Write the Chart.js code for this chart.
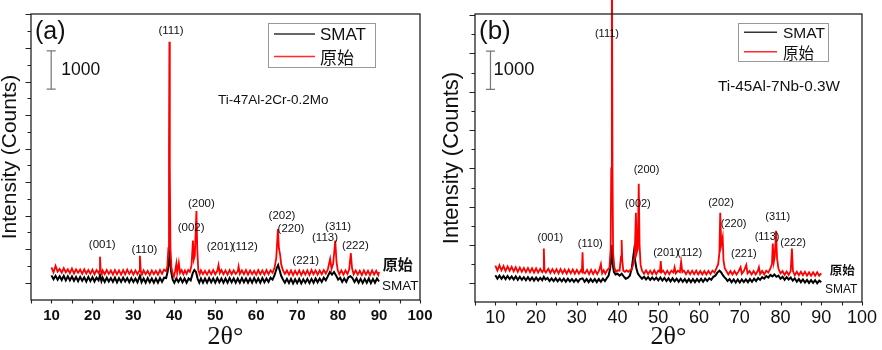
<!DOCTYPE html>
<html>
<head>
<meta charset="utf-8">
<script src="https://cdn.jsdelivr.net/npm/chart.js@4.4.1/dist/chart.umd.min.js"></script>
<style>
  body { margin: 0; background: #fff; }
  .panel { position: absolute; top: 0; width: 441px; height: 350px; }
  #wrapA { left: 0; }
  #wrapB { left: 441px; }
</style>
</head>
<body>
<div class="panel" id="wrapA"><canvas id="chartA" width="441" height="350"></canvas></div>
<div class="panel" id="wrapB"><canvas id="chartB" width="441" height="350"></canvas></div>
<script>
// ---- shared axis values ----
const twoThetaTicks = [10, 20, 30, 40, 50, 60, 70, 80, 90, 100];
const twoThetaMarks = [5, 10, 15, 20, 25, 30, 35, 40, 45, 50, 55, 60, 65, 70, 75, 80, 85, 90, 95, 100];
const seriesNames = ['SMAT', '原始'];

// ---- panel (a): Ti-47Al-2Cr-0.2Mo ----
const rawA = [
  [10,400],[10.5,270],[11,440],[11.5,290],[12,360],[12.5,260],[13,380],[13.5,270],[14,350],[14.5,250],
  [15,370],[15.5,240],[16,350],[16.5,260],[17,340],[17.5,230],[18,350],[18.5,240],[19,330],[19.5,230],
  [20,340],[20.5,220],[21,330],[21.5,250],[21.7,300],[21.85,680],[22,330],[22.3,230],[22.5,320],[23,220],
  [23.5,330],[24,230],[24.5,320],[25,210],[25.5,330],[26,220],[26.5,320],[27,210],[27.5,330],[28,220],
  [28.5,340],[29,230],[29.5,320],[30,210],[30.5,320],[31,220],[31.4,300],[31.6,700],[31.8,310],[32.1,210],
  [32.5,320],[33,220],[33.5,310],[34,200],[34.5,320],[35,220],[35.5,310],[36,210],[36.5,330],[37,230],
  [37.5,340],[38,300],[38.3,420],[38.55,900],[38.7,3500],[38.8,6290],[38.9,3000],[39.05,900],[39.3,400],[39.6,230],
  [39.9,160],[40.2,300],[40.5,500],[40.7,260],[41.1,520],[41.4,250],[41.8,330],[42.2,220],[42.6,320],[43,230],
  [43.4,330],[43.8,280],[44.2,450],[44.55,1100],[44.75,600],[45,700],[45.4,1870],[45.6,900],[45.85,330],[46.2,220],
  [46.5,320],[47,220],[47.5,310],[48,210],[48.5,320],[49,220],[49.5,330],[50,220],[50.5,310],[50.8,460],
  [51.1,250],[51.5,330],[52,220],[52.5,320],[53,210],[53.5,330],[54,220],[54.5,320],[55,230],[55.5,300],
  [55.7,420],[56,230],[56.5,320],[57,220],[57.5,330],[58,210],[58.5,320],[59,220],[59.5,310],[60,210],
  [60.5,330],[61,220],[61.5,320],[62,210],[62.5,330],[63,220],[63.5,320],[64,260],[64.5,400],[64.9,650],
  [65.3,1400],[65.55,900],[65.85,720],[66.1,480],[66.5,330],[67,230],[67.5,320],[68,210],[68.5,320],[69,200],
  [69.5,310],[70,210],[70.5,320],[71,200],[71.5,310],[72,210],[72.5,320],[73,200],[73.5,330],[74,220],
  [74.5,320],[75,210],[75.5,320],[76,220],[76.5,330],[77,240],[77.5,350],[78.05,620],[78.4,360],[78.8,500],
  [79.3,1100],[79.6,560],[79.9,330],[80.3,220],[80.8,320],[81.3,210],[81.8,320],[82.3,230],[82.7,340],[83.1,770],
  [83.4,380],[83.8,220],[84.3,320],[84.8,210],[85.3,310],[85.8,200],[86.3,320],[86.8,210],[87.3,310],[87.8,200],
  [88.3,320],[88.8,210],[89.3,310],[89.8,200],[90,280]
];
const smatA = [
  [10,190],[10.5,90],[11,180],[11.5,80],[12,170],[12.5,70],[13,180],[13.5,60],[14,170],[14.5,60],
  [15,160],[15.5,50],[16,150],[16.5,40],[17,150],[17.5,50],[18,140],[18.5,30],[19,150],[19.5,40],
  [20,140],[20.5,30],[21,130],[21.5,60],[21.85,200],[22.2,40],[22.5,130],[23,20],[23.5,130],[24,30],
  [24.5,120],[25,20],[25.5,130],[26,10],[26.5,120],[27,20],[27.5,130],[28,30],[28.5,120],[29,10],
  [29.5,120],[30,20],[30.5,110],[31,10],[31.6,180],[32,10],[32.5,110],[33,0],[33.5,120],[34,10],
  [34.5,110],[35,0],[35.5,110],[36,0],[36.5,120],[37,20],[37.5,130],[38,120],[38.4,300],[38.8,700],
  [39.2,300],[39.6,80],[40,0],[40.5,110],[41,20],[41.5,120],[42,10],[42.5,110],[43,0],[43.5,110],
  [44,60],[44.5,250],[44.9,330],[45.3,280],[45.7,100],[46.1,0],[46.5,110],[47,0],[47.5,110],[48,0],
  [48.5,120],[49,10],[49.5,110],[50,0],[50.5,120],[51,10],[51.5,110],[52,0],[52.5,110],[53,0],
  [53.5,120],[54,10],[54.5,110],[55,0],[55.5,110],[56,0],[56.5,120],[57,10],[57.5,110],[58,0],
  [58.5,110],[59,0],[59.5,120],[60,10],[60.5,110],[61,0],[61.5,120],[62,10],[62.5,110],[63,20],
  [63.5,130],[64,80],[64.5,200],[65,380],[65.35,460],[65.7,330],[66.1,180],[66.5,90],[67,0],[67.5,100],
  [68,-10],[68.5,100],[69,-20],[69.5,90],[70,-10],[70.5,100],[71,-20],[71.5,90],[72,0],[72.5,100],
  [73,-10],[73.5,100],[74,0],[74.5,110],[75,10],[75.5,110],[76,20],[76.5,130],[77,60],[77.5,170],
  [78,280],[78.5,210],[79,280],[79.5,190],[80,80],[80.5,130],[81,20],[81.5,110],[82,20],[82.5,140],
  [83,170],[83.5,120],[84,20],[84.5,110],[85,0],[85.5,100],[86,-10],[86.5,100],[87,0],[87.5,110],
  [88,-10],[88.5,100],[89,0],[89.5,110],[90,30]
];
const peakNamesA = ['(111)', '(001)', '(110)', '(002)', '(200)', '(201)', '(112)', '(202)', '(220)', '(221)', '(113)', '(311)', '(222)'];
const peakXA = [39.2, 22.4, 32.7, 44.1, 46.6, 51.2, 57.2, 66.3, 68.5, 72.1, 76.8, 80.0, 84.2];
const peakYA = [6580, 980, 850, 1440, 2070, 930, 930, 1750, 1410, 580, 1170, 1470, 970];
const yMajorA = [0, 875, 1750, 2625, 3500, 4375, 5250, 6125, 7000];
const yMinorA = [437.5, 1312.5, 2187.5, 3062.5, 3937.5, 4812.5, 5687.5, 6562.5];

// ---- panel (b): Ti-45Al-7Nb-0.3W ----
const rawB = [
  [10,460],[10.5,330],[11,470],[11.5,340],[12,450],[12.5,320],[13,440],[13.5,330],[14,430],[14.5,310],
  [15,420],[15.5,300],[16,410],[16.5,300],[17,400],[17.5,290],[18,400],[18.5,290],[19,390],[19.5,280],
  [20,390],[20.5,280],[21,380],[21.5,290],[21.75,340],[21.9,910],[22.05,340],[22.4,280],[23,380],[23.5,270],
  [24,370],[24.5,270],[25,370],[25.5,260],[26,370],[26.5,260],[27,360],[27.5,250],[28,360],[28.5,260],
  [29,360],[29.5,250],[30,350],[30.5,250],[31,340],[31.25,300],[31.4,810],[31.55,300],[32,260],[32.5,350],
  [33,240],[33.5,350],[34,240],[34.5,340],[35,240],[35.5,340],[35.9,500],[36.2,260],[36.6,340],[37,250],
  [37.5,350],[38,400],[38.3,900],[38.45,3000],[38.6,9500],[38.75,3000],[38.9,800],[39.2,420],[39.6,300],[40,340],
  [40.5,330],[40.85,700],[41,1130],[41.15,600],[41.4,330],[41.8,300],[42.2,340],[42.6,300],[43,340],[43.4,350],
  [43.8,480],[44.2,700],[44.5,1840],[44.7,800],[44.95,900],[45.2,2600],[45.4,1000],[45.65,480],[46,330],[46.5,250],
  [47,340],[47.5,240],[48,330],[48.5,240],[49,340],[49.5,240],[50,330],[50.4,300],[50.6,580],[50.8,290],
  [51.2,330],[51.7,240],[52.2,330],[52.7,240],[53.2,330],[53.7,280],[54,420],[54.3,260],[54.8,330],[55.3,290],
  [55.6,560],[55.9,290],[56.3,330],[56.8,240],[57.3,330],[57.8,240],[58.3,330],[58.8,240],[59.3,330],[59.8,230],
  [60.3,320],[60.8,230],[61.3,320],[61.8,230],[62.3,320],[62.8,240],[63.3,330],[63.8,280],[64.3,400],[64.7,500],
  [65,800],[65.2,1840],[65.45,1000],[65.8,1200],[66,600],[66.3,400],[66.7,320],[67.2,230],[67.7,320],[68.2,230],
  [68.7,320],[69.2,230],[69.7,310],[70.2,420],[70.5,250],[71,320],[71.6,480],[71.9,260],[72.4,320],[72.9,230],
  [73.4,320],[73.9,230],[74.4,320],[74.7,420],[75,240],[75.5,320],[76,230],[76.5,330],[77,280],[77.5,380],
  [77.9,500],[78.1,1040],[78.35,550],[78.6,700],[78.9,1370],[79.15,650],[79.5,380],[80,260],[80.5,320],[81,220],
  [81.5,310],[82,220],[82.5,320],[82.8,910],[83.05,320],[83.5,210],[84,300],[84.5,210],[85,300],[85.5,210],
  [86,300],[86.5,200],[87,290],[87.5,200],[88,290],[88.5,200],[89,290],[89.5,200],[90,260]
];
const smatB = [
  [10,210],[10.5,120],[11,200],[11.5,120],[12,190],[12.5,110],[13,190],[13.5,110],[14,180],[14.5,100],
  [15,180],[15.5,90],[16,170],[16.5,90],[17,160],[17.5,80],[18,160],[18.5,80],[19,150],[19.5,70],
  [20,150],[20.5,70],[21,140],[21.5,80],[21.9,170],[22.3,100],[22.8,140],[23.3,60],[23.8,130],[24.3,60],
  [24.8,130],[25.3,50],[25.8,120],[26.3,50],[26.8,120],[27.3,40],[27.8,120],[28.3,50],[28.8,110],[29.3,40],
  [29.8,110],[30.3,40],[30.8,110],[31.4,130],[31.9,40],[32.4,110],[32.9,30],[33.4,110],[33.9,40],[34.4,110],
  [34.9,30],[35.4,110],[35.9,40],[36.4,120],[36.9,60],[37.4,140],[37.8,200],[38.2,400],[38.55,1000],[38.8,500],
  [39.1,300],[39.5,230],[40,250],[40.5,200],[41,250],[41.5,180],[42,120],[42.5,140],[43,200],[43.5,400],
  [43.8,650],[44.05,850],[44.3,600],[44.6,400],[45,250],[45.5,180],[46,120],[46.5,170],[47,100],[47.5,160],
  [48,90],[48.5,150],[49,90],[49.5,150],[50,80],[50.5,150],[51,70],[51.5,140],[52,60],[52.5,130],
  [53,50],[53.5,130],[54,50],[54.5,120],[55,40],[55.5,120],[56,40],[56.5,110],[57,30],[57.5,110],
  [58,30],[58.5,110],[59,30],[59.5,110],[60,40],[60.5,120],[61,40],[61.5,120],[62,60],[62.5,130],
  [63,90],[63.5,170],[64,200],[64.5,280],[65,330],[65.4,290],[65.8,220],[66.2,160],[66.6,120],[67,60],
  [67.5,110],[68,30],[68.5,100],[69,20],[69.5,100],[70,20],[70.5,100],[71,30],[71.5,100],[72,30],
  [72.5,110],[73,40],[73.5,120],[74,60],[74.5,140],[75,90],[75.5,160],[76,120],[76.5,190],[77,150],
  [77.5,220],[78,180],[78.5,230],[79,170],[79.5,200],[80,120],[80.5,170],[81,90],[81.5,160],[82,100],
  [82.5,150],[83,70],[83.5,130],[84,40],[84.5,110],[85,30],[85.5,100],[86,20],[86.5,90],[87,10],
  [87.5,80],[88,10],[88.5,80],[89,0],[89.5,70],[90,30]
];
const peakNamesB = ['(111)', '(001)', '(110)', '(002)', '(200)', '(201)', '(112)', '(202)', '(220)', '(221)', '(113)', '(311)', '(222)'];
const peakXB = [37.4, 23.5, 33.3, 45.0, 47.1, 51.9, 57.7, 65.4, 68.5, 71.0, 76.7, 79.3, 83.1];
const peakYB = [6500, 1180, 1030, 2080, 2950, 790, 790, 2100, 1560, 770, 1210, 1730, 1050];
const yMajorB = [0, 1000, 2000, 3000, 4000, 5000, 6000, 7000];
const yMinorB = [500, 1500, 2500, 3500, 4500, 5500, 6500];

// draws frame, tick marks, scale bar, peak labels, legend and captions
function decorPlugin(p) {
  return {
    id: 'decor',
    afterDraw(chart) {
      const ctx = chart.ctx;
      const area = chart.chartArea;
      const xs = chart.scales.x, ys = chart.scales.y;
      ctx.save();

      // frame
      ctx.strokeStyle = '#222';
      ctx.lineWidth = 1.3;
      ctx.strokeRect(area.left, area.top, area.right - area.left, area.bottom - area.top);

      // tick marks
      ctx.lineWidth = 1.1;
      ctx.beginPath();
      twoThetaMarks.forEach(v => {
        const px = Math.round(xs.getPixelForValue(v)) + 0.5;
        ctx.moveTo(px, area.bottom);
        ctx.lineTo(px, area.bottom + 3.5);
      });
      p.yMajor.forEach(v => {
        const py = Math.round(ys.getPixelForValue(v)) + 0.5;
        ctx.moveTo(area.left, py);
        ctx.lineTo(area.left - 5.5, py);
      });
      p.yMinor.forEach(v => {
        const py = Math.round(ys.getPixelForValue(v)) + 0.5;
        ctx.moveTo(area.left, py);
        ctx.lineTo(area.left - 3.5, py);
      });
      ctx.stroke();

      // scale bar (1000 counts)
      const bx = xs.getPixelForValue(p.bar.x);
      const b0 = ys.getPixelForValue(p.bar.from), b1 = ys.getPixelForValue(p.bar.from + 1000);
      ctx.strokeStyle = '#777';
      ctx.lineWidth = 1.2;
      ctx.beginPath();
      ctx.moveTo(bx, b0); ctx.lineTo(bx, b1);
      ctx.moveTo(bx - 4.5, b0); ctx.lineTo(bx + 4.5, b0);
      ctx.moveTo(bx - 4.5, b1); ctx.lineTo(bx + 4.5, b1);
      ctx.stroke();
      ctx.fillStyle = '#111';
      ctx.textBaseline = 'middle';
      ctx.textAlign = 'left';
      ctx.font = p.barFont + 'px "Liberation Sans", Arial, sans-serif';
      ctx.fillText('1000', bx + p.barGap, (b0 + b1) / 2);

      // peak (hkl) labels
      ctx.textAlign = 'center';
      ctx.font = p.peakFont + 'px "Liberation Sans", Arial, sans-serif';
      p.peakNames.forEach((t, i) => {
        ctx.fillText(t, xs.getPixelForValue(p.peakX[i]), ys.getPixelForValue(p.peakY[i]));
      });

      // curve end labels
      ctx.textAlign = 'left';
      ctx.font = 'bold ' + p.endRawFont + 'px "Noto Sans CJK SC", sans-serif';
      ctx.fillText(seriesNames[1], xs.getPixelForValue(p.endRaw[0]), ys.getPixelForValue(p.endRaw[1]));
      ctx.font = p.endSmatFont + 'px "Liberation Sans", Arial, sans-serif';
      ctx.fillText(seriesNames[0], xs.getPixelForValue(p.endSmat[0]), ys.getPixelForValue(p.endSmat[1]));

      // panel letter and alloy
      ctx.font = p.letterFont + 'px "Liberation Sans", Arial, sans-serif';
      ctx.fillText(p.letter, p.letterPos[0], p.letterPos[1]);
      ctx.font = p.alloyFont + 'px "Liberation Sans", Arial, sans-serif';
      ctx.fillText(p.alloy, p.alloyPos[0], p.alloyPos[1]);

      // legend box
      const L = p.legend;
      ctx.strokeStyle = '#999';
      ctx.lineWidth = 1;
      ctx.strokeRect(L.x + 0.5, L.y + 0.5, L.w, L.h);
      const colors = ['#333', '#ff2a2a'];
      const fonts = [L.font + 'px "Liberation Sans", Arial, sans-serif', L.font + 'px "Noto Sans CJK SC", sans-serif'];
      seriesNames.forEach((name, i) => {
        const ry = L.rows[i];
        ctx.strokeStyle = colors[i];
        ctx.lineWidth = 1.4;
        ctx.beginPath();
        ctx.moveTo(L.lineX0, ry); ctx.lineTo(L.lineX1, ry);
        ctx.stroke();
        ctx.font = fonts[i];
        ctx.fillStyle = '#111';
        ctx.fillText(name, L.textX, ry + 1);
      });
      ctx.restore();
    }
  };
}

function makeChart(id, raw, smat, p) {
  return new Chart(document.getElementById(id), {
    type: 'line',
    data: {
      datasets: [
        { label: seriesNames[1], data: raw.map(d => ({ x: d[0], y: d[1] })), borderColor: '#ff0000',
          borderWidth: 1.8, pointRadius: 0, order: 0, clip: p.rawClip },
        { label: seriesNames[0], data: smat.map(d => ({ x: d[0], y: d[1] })), borderColor: '#000000',
          borderWidth: 2, pointRadius: 0, order: 1 }
      ]
    },
    options: {
      responsive: false,
      animation: false,
      layout: { padding: { top: 14, right: p.padRight, left: 0, bottom: 0 } },
      plugins: { legend: { display: false }, tooltip: { enabled: false } },
      scales: {
        x: {
          type: 'linear', min: 5, max: 100,
          grid: { display: false, drawTicks: false },
          border: { display: false },
          afterBuildTicks: s => { s.ticks = twoThetaTicks.map(v => ({ value: v })); },
          afterFit: s => { s.height = p.xHeight; },
          ticks: {
            color: '#111', padding: p.tickPad, maxRotation: 0, autoSkip: false,
            font: { family: '"Liberation Sans", Arial, sans-serif', size: p.tickFont, weight: p.tickWeight }
          },
          title: {
            display: true, text: '2θ°', color: '#111', padding: 0,
            font: { family: '"Liberation Serif", "Times New Roman", serif', size: 26, lineHeight: 1 }
          }
        },
        y: {
          type: 'linear', min: p.yMin, max: p.yMax,
          grid: { display: false, drawTicks: false },
          border: { display: false },
          ticks: { display: false },
          afterFit: s => { s.width = p.yWidth; },
          title: {
            display: true, text: 'Intensity (Counts)', color: '#111', padding: 0,
            font: { family: '"Liberation Sans", Arial, sans-serif', size: p.yTitleFont, lineHeight: 1 }
          }
        }
      }
    },
    plugins: [decorPlugin(p)]
  });
}

makeChart('chartA', rawA, smatA, {
  yMin: -452, yMax: 7013, yWidth: 31, xHeight: 50, padRight: 21,
  tickFont: 15, tickWeight: 'bold', tickPad: 7, yTitleFont: 21, rawClip: undefined,
  yMajor: yMajorA, yMinor: yMinorA,
  bar: { x: 9.93, from: 5050 }, barFont: 17.5, barGap: 10,
  peakNames: peakNamesA, peakX: peakXA, peakY: peakYA, peakFont: 11.5,
  endRaw: [90.9, 470], endSmat: [90.7, -86], endRawFont: 15, endSmatFont: 13.5,
  letter: '(a)', letterPos: [35, 32], letterFont: 25,
  alloy: 'Ti-47Al-2Cr-0.2Mo', alloyPos: [218, 100], alloyFont: 13.5,
  legend: { x: 268, y: 23, w: 107, h: 44, rows: [34, 56.5], lineX0: 274, lineX1: 315, textX: 320, font: 17 }
});

makeChart('chartB', rawB, smatB, {
  yMin: -488, yMax: 7029, yWidth: 34, xHeight: 48, padRight: 15,
  tickFont: 18, tickWeight: 'normal', tickPad: 5, yTitleFont: 22, rawClip: false,
  yMajor: yMajorB, yMinor: yMinorB,
  bar: { x: 8.8, from: 5060 }, barFont: 18.4, barGap: 3,
  peakNames: peakNamesB, peakX: peakXB, peakY: peakYB, peakFont: 11,
  endRaw: [92.1, 352], endSmat: [90.9, -167], endRawFont: 12.5, endSmatFont: 12,
  letter: '(b)', letterPos: [38, 32], letterFont: 26,
  alloy: 'Ti-45Al-7Nb-0.3W', alloyPos: [277, 87], alloyFont: 15.3,
  legend: { x: 297, y: 23, w: 90, h: 38, rows: [32.3, 51.7], lineX0: 303, lineX1: 336, textX: 342, font: 15.5 }
});
</script>
</body>
</html>
